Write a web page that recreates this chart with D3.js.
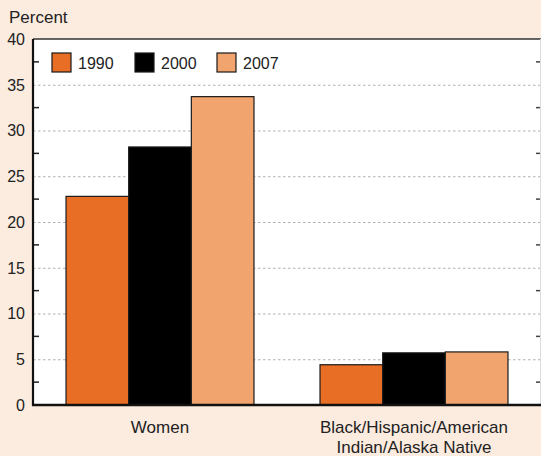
<!DOCTYPE html>
<html>
<head>
<meta charset="utf-8">
<script src="https://cdn.jsdelivr.net/npm/d3@7"></script>
<style>
  body { margin: 0; background: #fcebdf; }
  text { font-family: "Liberation Sans", Arial, sans-serif; fill: #222; }
</style>
</head>
<body>
<div id="chart"></div>
<script>
// data
var categories = ["Women", "Black/Hispanic/American Indian/Alaska Native"];
var years = ["1990", "2000", "2007"];
var values1990 = [22.8, 4.4];
var values2000 = [28.2, 5.7];
var values2007 = [33.7, 5.8];
var yTicks = [0, 5, 10, 15, 20, 25, 30, 35, 40];

var colors = ["#e86d25", "#000000", "#f2a46f"];

var data = categories.map(function(c, i) {
  return {cat: c, vals: [values1990[i], values2000[i], values2007[i]]};
});

var W = 541, H = 456;
var margin = {top: 39, right: 0, bottom: 51, left: 33},
    width = W - margin.left - margin.right,
    height = H - margin.top - margin.bottom;

var svg = d3.select("#chart")
  .append("svg")
    .attr("width", W)
    .attr("height", H);

svg.append("rect")
  .attr("width", W).attr("height", H)
  .attr("fill", "#fcebdf");

var g = svg.append("g")
  .attr("transform", "translate(" + margin.left + "," + margin.top + ")");

// plot background
g.append("rect")
  .attr("width", width).attr("height", height)
  .attr("fill", "#ffffff");

var x0 = d3.scaleBand()
  .domain(categories)
  .range([0, width])
  .paddingInner(0.26)
  .paddingOuter(0.13);

var x1 = d3.scaleBand()
  .domain(years)
  .range([0, x0.bandwidth()]);

var y = d3.scaleLinear()
  .domain([0, 40])
  .range([height, 0]);

// dotted grid
g.selectAll(".grid")
  .data(yTicks.filter(function(d) { return d > 0 && d < 40; }))
  .enter()
  .append("line")
    .attr("x1", 0).attr("x2", width)
    .attr("y1", function(d) { return y(d) + 0.5; })
    .attr("y2", function(d) { return y(d) + 0.5; })
    .attr("stroke", "#b0b0b0")
    .attr("stroke-width", 1.2)
    .attr("stroke-dasharray", "2.5,2.5");

// minor ticks inside left and right
var minor = d3.range(2.5, 40, 5);
g.selectAll(".minL")
  .data(minor).enter().append("line")
    .attr("x1", 0).attr("x2", 6)
    .attr("y1", function(d) { return y(d); })
    .attr("y2", function(d) { return y(d); })
    .attr("stroke", "#222").attr("stroke-width", 1.5);
g.selectAll(".minR")
  .data(minor).enter().append("line")
    .attr("x1", width - 5).attr("x2", width)
    .attr("y1", function(d) { return y(d); })
    .attr("y2", function(d) { return y(d); })
    .attr("stroke", "#444").attr("stroke-width", 1.5);

// bars
var groups = g.selectAll(".grp")
  .data(data)
  .enter()
  .append("g")
    .attr("transform", function(d) { return "translate(" + x0(d.cat) + ",0)"; });

groups.selectAll("rect")
  .data(function(d) { return d.vals.map(function(v, i) { return {year: years[i], v: v, i: i}; }); })
  .enter()
  .append("rect")
    .attr("x", function(d) { return x1(d.year); })
    .attr("y", function(d) { return y(d.v); })
    .attr("width", x1.bandwidth())
    .attr("height", function(d) { return height - y(d.v); })
    .attr("fill", function(d) { return colors[d.i]; })
    .attr("stroke", "#1a1a1a")
    .attr("stroke-width", 1.2);

// frame
g.append("line")
  .attr("x1", 0).attr("x2", width).attr("y1", 0).attr("y2", 0)
  .attr("stroke", "#333").attr("stroke-width", 1.5);
g.append("line")
  .attr("x1", width - 0.5).attr("x2", width - 0.5).attr("y1", 0).attr("y2", height)
  .attr("stroke", "#ddd").attr("stroke-width", 1);
g.append("line")
  .attr("x1", 0).attr("x2", 0).attr("y1", 0).attr("y2", height + 1)
  .attr("stroke", "#111").attr("stroke-width", 2.2);
g.append("line")
  .attr("x1", -1).attr("x2", width).attr("y1", height).attr("y2", height)
  .attr("stroke", "#111").attr("stroke-width", 2.5);

// y tick labels
g.selectAll(".ylab")
  .data(yTicks)
  .enter()
  .append("text")
    .attr("x", -8)
    .attr("y", function(d) { return y(d); })
    .attr("dy", "0.36em")
    .attr("text-anchor", "end")
    .style("font-size", "16px")
    .text(function(d) { return d; });

// y axis title
svg.append("text")
  .attr("x", 9).attr("y", 23)
  .style("font-size", "17px")
  .text("Percent");

// category labels
var catLines = [["Women"], ["Black/Hispanic/American", "Indian/Alaska Native"]];
groups.each(function(d, i) {
  var t = d3.select(this).append("text")
    .attr("text-anchor", "middle")
    .style("font-size", "17px");
  catLines[i].forEach(function(line, j) {
    t.append("tspan")
      .attr("x", x0.bandwidth() / 2)
      .attr("y", height + 28 + j * 20)
      .text(line);
  });
});

// legend
var legX = [19, 102, 184];
var legend = g.selectAll(".leg")
  .data(years)
  .enter()
  .append("g")
    .attr("transform", function(d, i) { return "translate(" + legX[i] + ",14)"; });
legend.append("rect")
  .attr("width", 19).attr("height", 19)
  .attr("fill", function(d, i) { return colors[i]; })
  .attr("stroke", "#1a1a1a").attr("stroke-width", 1.2);
legend.append("text")
  .attr("x", 26).attr("y", 10)
  .attr("dy", "0.36em")
  .style("font-size", "16px")
  .text(function(d) { return d; });
</script>
</body>
</html>
